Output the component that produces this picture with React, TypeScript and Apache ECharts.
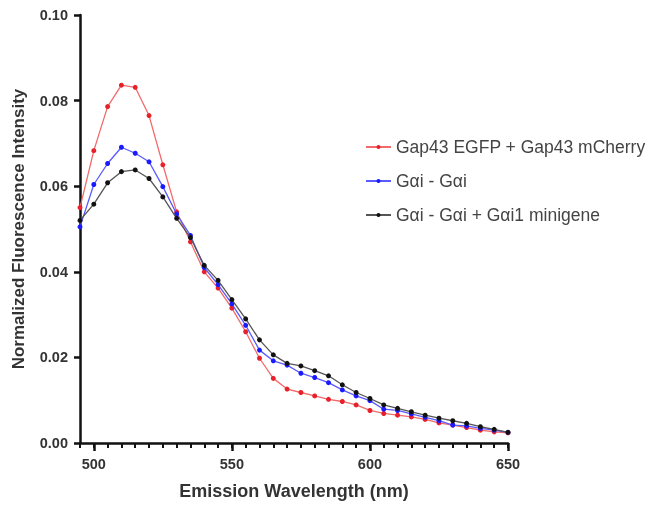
import React, { useEffect, useRef } from "react";
import * as echarts from "echarts";

const wavelengths = [
  495, 500, 505, 510, 515, 520, 525, 530, 535, 540, 545, 550, 555, 560, 565, 570,
  575, 580, 585, 590, 595, 600, 605, 610, 615, 620, 625, 630, 635, 640, 645, 650,
];

const gap43Values = [
  0.055, 0.0683, 0.0786, 0.0836, 0.0831, 0.0765, 0.065, 0.054, 0.047, 0.04, 0.0362,
  0.0315, 0.026, 0.0198, 0.0151, 0.0126, 0.0118, 0.011, 0.0102, 0.0097, 0.0089, 0.0076,
  0.0069, 0.0065, 0.0061, 0.0055, 0.0047, 0.0042, 0.0036, 0.003, 0.0026, 0.0024,
];

const gaiValues = [
  0.0505, 0.0604, 0.0653, 0.0691, 0.0677, 0.0657, 0.0599, 0.0535, 0.0485, 0.041, 0.037,
  0.0325, 0.0275, 0.0217, 0.0192, 0.0182, 0.0163, 0.0153, 0.0141, 0.0124, 0.011, 0.0099,
  0.0079, 0.0076, 0.0068, 0.006, 0.0052, 0.0042, 0.004, 0.0034, 0.003, 0.0025,
];

const gaiMinigeneValues = [
  0.052, 0.0558, 0.0608, 0.0634, 0.0638, 0.0618, 0.0575, 0.0525, 0.048, 0.0415, 0.038,
  0.0335, 0.029, 0.0241, 0.0206, 0.0186, 0.018, 0.0169, 0.0157, 0.0136, 0.0118, 0.0104,
  0.0089, 0.0081, 0.0073, 0.0065, 0.0058, 0.0052, 0.0046, 0.0038, 0.0032, 0.0025,
];

const seriesNames = [
  "Gap43 EGFP + Gap43 mCherry",
  "G\u03b1i - G\u03b1i",
  "G\u03b1i - G\u03b1i + G\u03b1i1 minigene",
];

const xMajorTicks = [500, 550, 600, 650];
const xTitle = "Emission Wavelength (nm)";
const yTitle = "Normalized Fluorescence Intensity";

const FONT = 'Arial, "Liberation Sans", sans-serif';

export default function App() {
  const ref = useRef<HTMLDivElement>(null);

  useEffect(() => {
    if (!ref.current) return;
    const chart = echarts.init(ref.current, null, { renderer: "svg" });

    const mk = (vals: number[]) => wavelengths.map((w, i) => [w, vals[i]]);
    const styles = [
      { line: "#f26a6a", dot: "#e8202a" },
      { line: "#5a5aff", dot: "#1a1aff" },
      { line: "#555555", dot: "#111111" },
    ];
    const dataSets = [gap43Values, gaiValues, gaiMinigeneValues];

    chart.setOption({
      animation: false,
      grid: { left: 80, right: 146, top: 15, bottom: 68 },
      legend: {
        orient: "vertical",
        left: 360,
        top: 133,
        itemWidth: 25,
        itemHeight: 5,
        itemGap: 16,
        textStyle: { fontFamily: FONT, fontSize: 17.5, color: "#444444" },
        data: seriesNames,
      },
      xAxis: [
        {
          type: "value",
          min: 495,
          max: 650,
          interval: 5,
          name: xTitle,
          nameLocation: "middle",
          nameGap: 39,
          nameTextStyle: { fontFamily: FONT, fontSize: 18, fontWeight: "bold", color: "#333333" },
          axisLine: { show: true, onZero: false, lineStyle: { color: "#111111", width: 2.5 } },
          axisTick: { show: true, length: 5, lineStyle: { color: "#111111", width: 2 } },
          axisLabel: {
            show: true,
            customValues: xMajorTicks,
            margin: 13,
            fontFamily: FONT,
            fontSize: 14.5,
            fontWeight: "bold",
            color: "#333333",
          },
          splitLine: { show: false },
        },
        {
          type: "value",
          min: 495,
          max: 650,
          interval: 5,
          position: "bottom",
          axisLine: { show: false, onZero: false },
          axisTick: { show: true, length: 8, customValues: xMajorTicks, lineStyle: { color: "#111111", width: 2.5 } },
          axisLabel: { show: false },
          splitLine: { show: false },
        },
      ],
      yAxis: {
        type: "value",
        min: 0,
        max: 0.1,
        interval: 0.02,
        name: yTitle,
        nameLocation: "middle",
        nameGap: 53,
        nameTextStyle: { fontFamily: FONT, fontSize: 17, fontWeight: "bold", color: "#333333" },
        axisLine: { show: true, lineStyle: { color: "#111111", width: 2.5 } },
        axisTick: { show: true, length: 6, lineStyle: { color: "#111111", width: 2.5 } },
        axisLabel: {
          margin: 12,
          fontFamily: FONT,
          fontSize: 14.5,
          fontWeight: "bold",
          color: "#333333",
          formatter: (v: number) => v.toFixed(2),
        },
        splitLine: { show: false },
      },
      series: dataSets.map((vals, i) => ({
        name: seriesNames[i],
        type: "line",
        xAxisIndex: 0,
        data: mk(vals),
        symbol: "circle",
        symbolSize: 5,
        lineStyle: { color: styles[i].line, width: 1.3 },
        itemStyle: { color: styles[i].dot },
        z: 3 + i,
      })),
    });

    return () => chart.dispose();
  }, []);

  return <div ref={ref} style={{ position: "fixed", left: 0, top: 0, width: 654, height: 511 }} />;
}
